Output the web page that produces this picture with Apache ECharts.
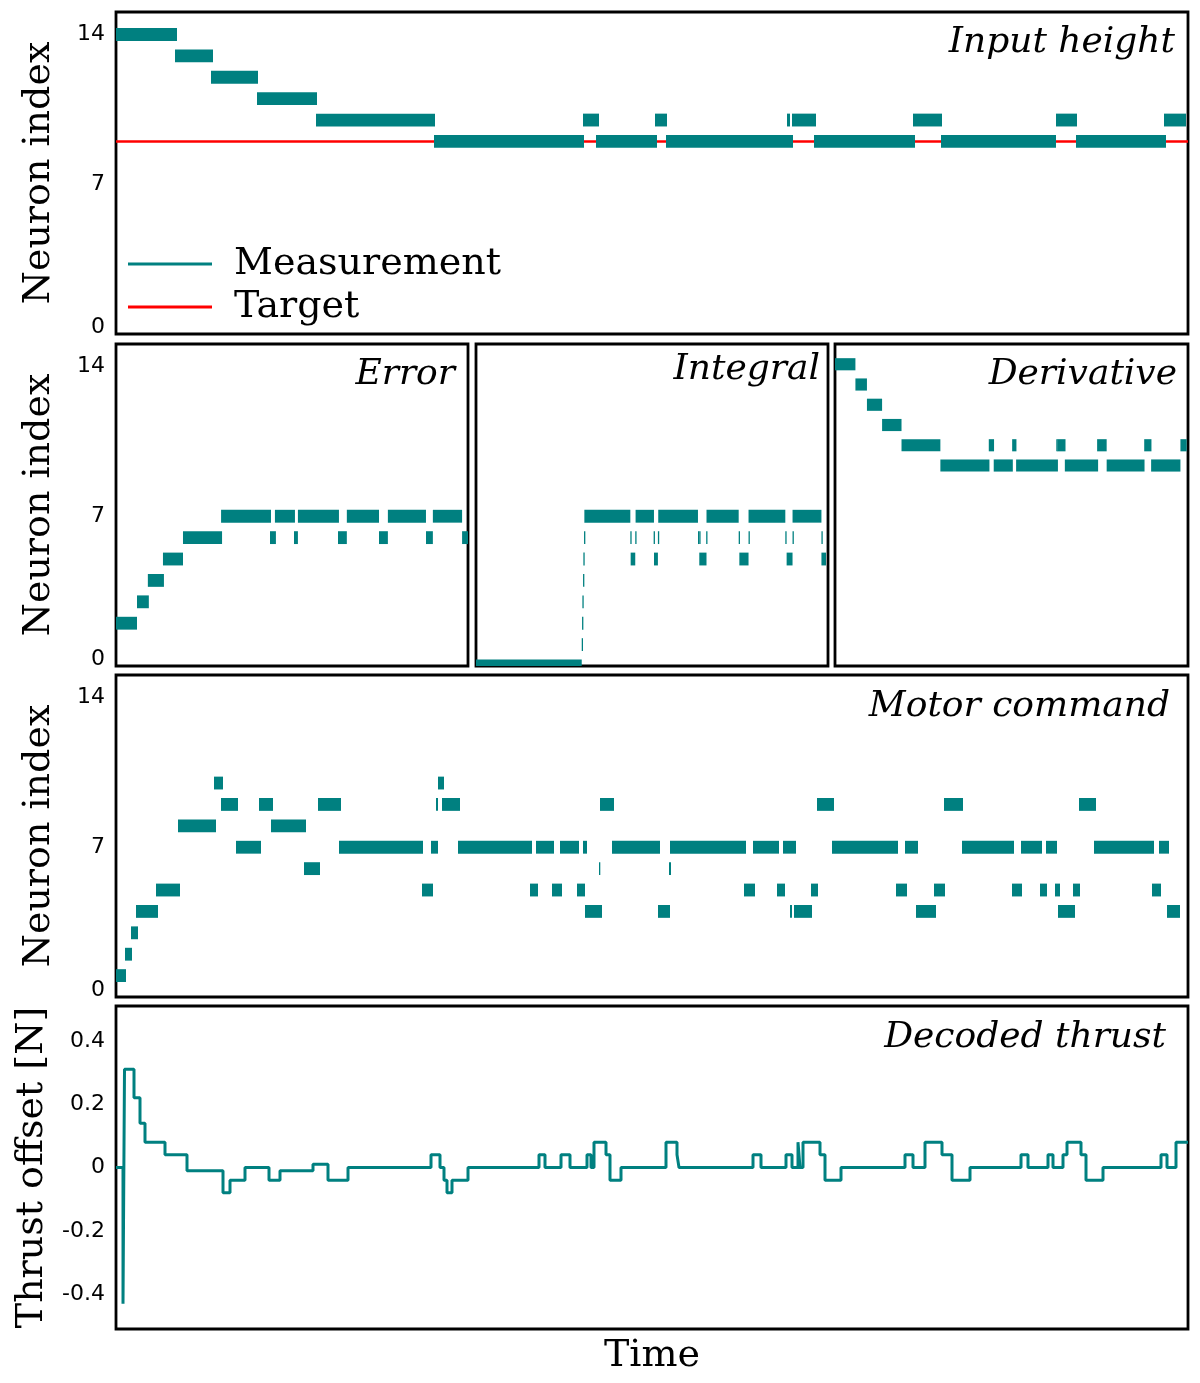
<!DOCTYPE html>
<html>
<head>
<meta charset="utf-8">
<title>Spiking PID height controller</title>
<script src="https://cdn.jsdelivr.net/npm/echarts@6/dist/echarts.min.js"></script>
<style>
  html, body { margin: 0; padding: 0; background: #fff; }
  #chart { width: 1200px; height: 1383px; }
</style>
</head>
<body>
<div id="chart"></div>
<script>
// time is in simulation steps (0..T_END), no tick labels on it
const T_END = 1072;
const TARGET_INDEX = 9;

// spike runs: [start, end, neuron index]
const inputHeight = [
  [0, 61, 14], [59, 97, 13], [95, 142, 12], [141, 201, 11], [200, 319, 10],
  [318, 468, 9], [467, 483, 10], [480, 541, 9], [539, 551, 10], [550, 677, 9],
  [671, 674, 10], [676, 700, 10], [698, 799, 9], [797, 826, 10], [825, 940, 9],
  [940, 961, 10], [960, 1050, 9], [1048, 1070, 10]
];

const errorRuns = [
  [0, 64, 2], [64, 100, 3], [97, 146, 4], [143, 204, 5], [204, 323, 6],
  [320, 472, 7], [469, 487, 6], [484, 545, 7], [542, 554, 6], [554, 679, 7],
  [676, 703, 6], [703, 801, 7], [801, 828, 6], [828, 944, 7], [944, 965, 6],
  [965, 1054, 7], [1054, 1072, 6]
];

const integralRuns = [
  [0, 322, 0], [322, 323, 1], [323, 324, 2], [324, 325, 3], [326, 327, 4],
  [327, 328, 5], [329, 330, 6], [330, 470, 7], [470, 471, 6], [471, 485, 5],
  [485, 486, 6], [486, 542, 7], [541, 542, 6], [542, 554, 5], [554, 555, 6],
  [555, 676, 7], [676, 677, 6], [680, 681, 6], [680, 702, 5], [701, 702, 6],
  [702, 800, 7], [800, 801, 6], [802, 830, 5], [830, 831, 6], [830, 942, 7],
  [942, 943, 6], [946, 964, 5], [964, 965, 6], [964, 1052, 7], [1052, 1053, 6],
  [1052, 1066, 5]
];

const derivativeRuns = [
  [0, 62, 14], [62, 97, 13], [97, 143, 12], [143, 202, 11], [202, 320, 10],
  [320, 469, 9], [467, 483, 10], [482, 540, 9], [538, 551, 10], [550, 677, 9],
  [672, 673, 10], [675, 700, 10], [698, 799, 9], [796, 825, 10], [825, 940, 9],
  [939, 961, 10], [960, 1049, 9], [1049, 1068, 10]
];

const motorRuns = [
  [0, 10, 1], [9, 16, 2], [15, 22, 3], [20, 42, 4], [40, 64, 5], [62, 100, 8],
  [98, 107, 10], [105, 122, 9], [120, 145, 7], [143, 157, 9], [155, 190, 8],
  [188, 204, 6], [202, 225, 9], [223, 307, 7], [306, 317, 5], [315, 322, 7],
  [320, 322, 9], [322, 328, 10], [326, 344, 9], [342, 416, 7], [414, 422, 5],
  [420, 438, 7], [436, 446, 5], [444, 463, 7], [461, 469, 5], [467, 471, 7],
  [469, 486, 4], [483, 484, 6], [484, 498, 9], [496, 544, 7], [542, 554, 4],
  [553, 555, 6], [554, 630, 7], [628, 639, 5], [637, 663, 7], [661, 669, 5],
  [667, 680, 7], [674, 676, 4], [678, 696, 4], [695, 702, 5], [701, 718, 9],
  [716, 782, 7], [780, 791, 5], [789, 802, 7], [800, 820, 4], [818, 829, 5],
  [828, 847, 9], [846, 898, 7], [896, 906, 5], [905, 926, 7], [924, 931, 5],
  [930, 941, 7], [939, 944, 5], [942, 959, 4], [957, 964, 5], [963, 980, 9],
  [978, 1038, 7], [1036, 1045, 5], [1043, 1053, 7], [1051, 1064, 4]
];

// decoded thrust offset [N]: [t, value], value held until the next point
const thrust = [
  [0, 0], [7, -0.43], [8.5, 0.31], [18, 0.22], [24, 0.14], [29, 0.08],
  [49, 0.04], [71, -0.01], [107, -0.08], [114, -0.04], [129, 0], [153, -0.04],
  [164, -0.01], [197, 0.01], [212, -0.04], [232, 0], [315, 0.04], [324, 0],
  [328, -0.04], [331, -0.08], [336, -0.04], [352, 0], [423, 0.04], [429, 0],
  [445, 0.04], [454, 0], [471, 0.04], [475, 0], [478, 0.08], [490, 0.04],
  [494, -0.04], [505, 0], [550, 0.08], [561, 0.04], [563, 0], [637, 0.04],
  [645, 0], [670, 0.04], [676, 0], [682, 0.08], [684, 0], [687, 0.08],
  [704, 0.04], [709, -0.04], [725, 0], [789, 0.04], [797, 0], [809, 0.08],
  [826, 0.04], [836, -0.04], [854, 0], [905, 0.04], [912, 0], [932, 0.04],
  [937, 0], [947, 0.04], [951, 0.08], [965, 0.04], [970, -0.04], [987, 0],
  [1045, 0.04], [1051, 0], [1060, 0.08], [1072, 0.08]
];

const neuronTicks = [0, 7, 14];
const thrustTicks = [-0.4, -0.2, 0, 0.2, 0.4];

const TEAL = '#008080';
const SERIF = 'DejaVu Serif';
const SANS = 'DejaVu Sans';

const chart = echarts.init(document.getElementById('chart'));

// panel boxes in px
const grids = [
  { left: 116, top: 12, width: 1072, height: 322 },   // input height
  { left: 116, top: 344, width: 352, height: 322 },   // error
  { left: 476, top: 344, width: 352, height: 322 },   // integral
  { left: 835, top: 344, width: 353, height: 322 },   // derivative
  { left: 116, top: 675, width: 1072, height: 322 },  // motor command
  { left: 116, top: 1006, width: 1072, height: 323 }  // decoded thrust
].map(g => Object.assign(g, { show: true, borderColor: '#000', borderWidth: 2.8 }));

function renderRun(params, api) {
  const a = api.coord([api.value(0), api.value(2)]);
  const b = api.coord([api.value(1), api.value(2)]);
  const h = api.size([0, 1])[1] * 0.6;
  const cs = params.coordSys;
  const shape = echarts.graphic.clipRectByRect(
    { x: a[0], y: a[1] - h / 2, width: Math.max(b[0] - a[0], 1.3), height: h },
    { x: cs.x, y: cs.y, width: cs.width, height: cs.height }
  );
  return shape && { type: 'rect', shape: shape, style: api.style() };
}

function runSeries(name, idx, data) {
  return {
    name: name, type: 'custom', xAxisIndex: idx, yAxisIndex: idx,
    renderItem: renderRun, encode: { x: [0, 1], y: 2 },
    itemStyle: { color: TEAL }, z: 3, silent: true, data: data
  };
}

const timeAxis = idx => ({
  type: 'value', gridIndex: idx, min: 0, max: T_END,
  axisLine: { show: false }, axisTick: { show: false },
  axisLabel: { show: false }, splitLine: { show: false }
});

const nameStyle = { fontFamily: SERIF, fontSize: 38, color: '#000' };

function neuronAxis(idx, labelled) {
  return {
    type: 'value', gridIndex: idx, min: 0, max: 15.05, interval: 7,
    axisLine: { show: false }, axisTick: { show: false }, splitLine: { show: false },
    axisLabel: {
      show: labelled, margin: 11, color: '#000', fontFamily: SANS, fontSize: 22,
      formatter: v => neuronTicks.includes(v) ? (v === 0 ? '{lift|0}' : String(v)) : '',
      rich: { lift: { fontFamily: SANS, fontSize: 22, color: '#000', padding: [0, 0, 14, 0] } }
    },
    name: labelled ? 'Neuron index' : '', nameLocation: 'middle', nameGap: 58,
    nameTextStyle: nameStyle
  };
}

// derivative population sits on a slightly taller index range
const derivativeAxis = Object.assign(neuronAxis(3, false), { min: -0.9, max: 15.0, interval: null });

const titleStyle = { fontFamily: SERIF, fontStyle: 'italic', fontWeight: 'normal', fontSize: 36, color: '#000' };
const panelTitle = (text, right, top) => ({ text, right, top, padding: 0, textStyle: titleStyle });

const option = {
  backgroundColor: '#fff',
  animation: false,
  title: [
    panelTitle('Input height', 25, 25),
    panelTitle('Error', 745, 357),
    panelTitle('Integral', 380, 352),
    panelTitle('Derivative', 23, 357),
    panelTitle('Motor command', 30, 689),
    panelTitle('Decoded thrust', 34, 1020)
  ],
  legend: {
    left: 123, top: 239, orient: 'vertical', itemWidth: 84, itemHeight: 3, itemGap: 3,
    selectedMode: false,
    data: [{ name: 'Measurement', icon: 'rect' }, { name: 'Target', icon: 'rect' }],
    textStyle: { fontFamily: SERIF, fontSize: 38, color: '#000', lineHeight: 40, padding: [0, 0, 0, 17] }
  },
  grid: grids,
  xAxis: [
    timeAxis(0), timeAxis(1), timeAxis(2), timeAxis(3), timeAxis(4),
    Object.assign(timeAxis(5), { name: 'Time', nameLocation: 'middle', nameGap: 8, nameTextStyle: Object.assign({ verticalAlign: 'top' }, nameStyle) })
  ],
  yAxis: [
    neuronAxis(0, true), neuronAxis(1, true), neuronAxis(2, false), derivativeAxis, neuronAxis(4, true),
    {
      type: 'value', gridIndex: 5, min: -0.51, max: 0.51, splitNumber: 5,
      axisLine: { show: false }, axisTick: { show: false }, splitLine: { show: false },
      axisLabel: {
        margin: 11, color: '#000', fontFamily: SANS, fontSize: 22,
        formatter: v => thrustTicks.some(t => Math.abs(t - v) < 1e-6) ? String(+v.toFixed(1)) : ''
      },
      name: 'Thrust offset [N]', nameLocation: 'middle', nameGap: 58, nameTextStyle: nameStyle
    }
  ],
  series: [
    {
      name: 'Target', type: 'line', xAxisIndex: 0, yAxisIndex: 0, z: 2,
      showSymbol: false, silent: true, color: '#ff0000',
      lineStyle: { color: '#ff0000', width: 2.5 },
      data: [[0, TARGET_INDEX], [T_END, TARGET_INDEX]]
    },
    runSeries('Measurement', 0, inputHeight),
    runSeries('Error', 1, errorRuns),
    runSeries('Integral', 2, integralRuns),
    runSeries('Derivative', 3, derivativeRuns),
    runSeries('Motor command', 4, motorRuns),
    {
      name: 'Decoded thrust', type: 'line', xAxisIndex: 5, yAxisIndex: 5, step: 'end',
      showSymbol: false, silent: true, color: TEAL,
      lineStyle: { color: TEAL, width: 3 },
      data: thrust
    }
  ]
};

chart.setOption(option);
</script>
</body>
</html>
